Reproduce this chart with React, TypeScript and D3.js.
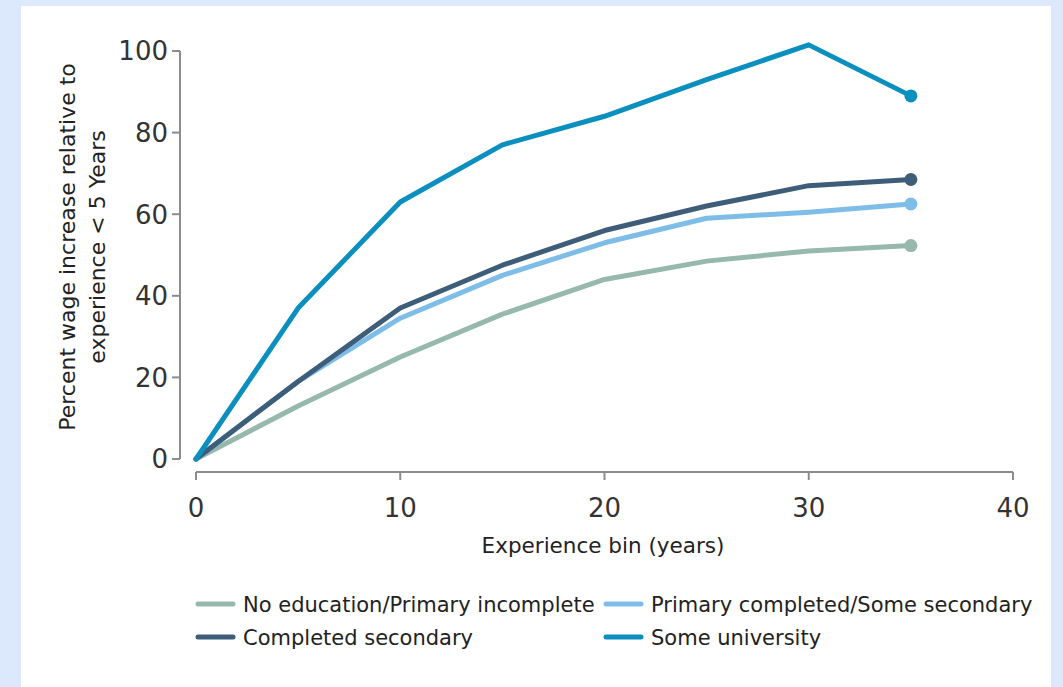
import * as d3 from 'd3';

// ─── Data ────────────────────────────────────────────────
const experienceBins = [0, 5, 10, 15, 20, 25, 30, 35];

const noEducation = [0, 13, 25, 35.5, 44, 48.5, 51, 52.3];
const primaryCompleted = [0, 19, 34.5, 45, 53, 59, 60.5, 62.5];
const completedSecondary = [0, 19, 37, 47.5, 56, 62, 67, 68.5];
const someUniversity = [0, 37, 63, 77, 84, 93, 101.5, 89];

const seriesNames = [
  'No education/Primary incomplete',
  'Primary completed/Some secondary',
  'Completed secondary',
  'Some university',
];
const seriesColors = ['#97b8ad', '#7fbde9', '#3d5d78', '#0a8fbf'];
const seriesValues = [noEducation, primaryCompleted, completedSecondary, someUniversity];

const xTicks = [0, 10, 20, 30, 40];
const yTicks = [0, 20, 40, 60, 80, 100];

const W = 1063;
const H = 687;
const FONT = '"DejaVu Sans", Verdana, sans-serif';

export default function App() {
  const x = d3.scaleLinear().domain([0, 40]).range([196, 1013]);
  const y = d3.scaleLinear().domain([0, 100]).range([459, 51]);

  const line = d3
    .line<number>()
    .x((_, i) => x(experienceBins[i]))
    .y((d) => y(d))
    .curve(d3.curveLinear);

  const yAxisX = 180;
  const xAxisY = 472;
  const axisColor = '#8c8c8c';

  const legendPos = [
    { sx: 198, ty: 604 },
    { sx: 606, ty: 604 },
    { sx: 198, ty: 637 },
    { sx: 606, ty: 637 },
  ];

  return (
    <svg
      width={W}
      height={H}
      style={{ position: 'absolute', left: 0, top: 0, display: 'block' }}
      fontFamily={FONT}
    >
      <rect x={0} y={0} width={W} height={H} fill="#dce8fb" />
      <rect x={21} y={6} width={1030} height={H - 6} fill="#ffffff" />

      {/* Y axis */}
      <line x1={yAxisX} x2={yAxisX} y1={y(100)} y2={y(0)} stroke={axisColor} strokeWidth={2} />
      {yTicks.map((t) => (
        <g key={t}>
          <line x1={yAxisX - 8} x2={yAxisX} y1={y(t)} y2={y(t)} stroke={axisColor} strokeWidth={2} />
          <text
            x={yAxisX - 12}
            y={y(t)}
            dy="0.36em"
            textAnchor="end"
            fontSize={26}
            fill="#333"
          >
            {t}
          </text>
        </g>
      ))}
      <text
        transform={`translate(67, 247) rotate(-90)`}
        textAnchor="middle"
        fontSize={22}
        fill="#222"
      >
        <tspan x={0} dy="0.36em">Percent wage increase relative to</tspan>
        <tspan x={0} dy={30}>experience &lt; 5 Years</tspan>
      </text>

      {/* X axis */}
      <line x1={x(0)} x2={x(40)} y1={xAxisY} y2={xAxisY} stroke={axisColor} strokeWidth={2} />
      {xTicks.map((t) => (
        <g key={t}>
          <line x1={x(t)} x2={x(t)} y1={xAxisY} y2={xAxisY + 8} stroke={axisColor} strokeWidth={2} />
          <text x={x(t)} y={508} dy="0.36em" textAnchor="middle" fontSize={26} fill="#333">
            {t}
          </text>
        </g>
      ))}
      <text x={603} y={545} dy="0.36em" textAnchor="middle" fontSize={21.5} fill="#222">
        Experience bin (years)
      </text>

      {/* Lines */}
      {seriesValues.map((vals, i) => (
        <g key={seriesNames[i]}>
          <path
            d={line(vals) ?? ''}
            fill="none"
            stroke={seriesColors[i]}
            strokeWidth={5}
            strokeLinejoin="round"
            strokeLinecap="round"
          />
          <circle
            cx={x(experienceBins[experienceBins.length - 1])}
            cy={y(vals[vals.length - 1])}
            r={6.5}
            fill={seriesColors[i]}
          />
        </g>
      ))}

      {/* Legend */}
      {seriesNames.map((name, i) => (
        <g key={name}>
          <line
            x1={legendPos[i].sx}
            x2={legendPos[i].sx + 35}
            y1={legendPos[i].ty}
            y2={legendPos[i].ty}
            stroke={seriesColors[i]}
            strokeWidth={5}
            strokeLinecap="round"
          />
          <text
            x={legendPos[i].sx + 45}
            y={legendPos[i].ty}
            dy="0.36em"
            fontSize={21}
            fill="#222"
          >
            {name}
          </text>
        </g>
      ))}
    </svg>
  );
}
